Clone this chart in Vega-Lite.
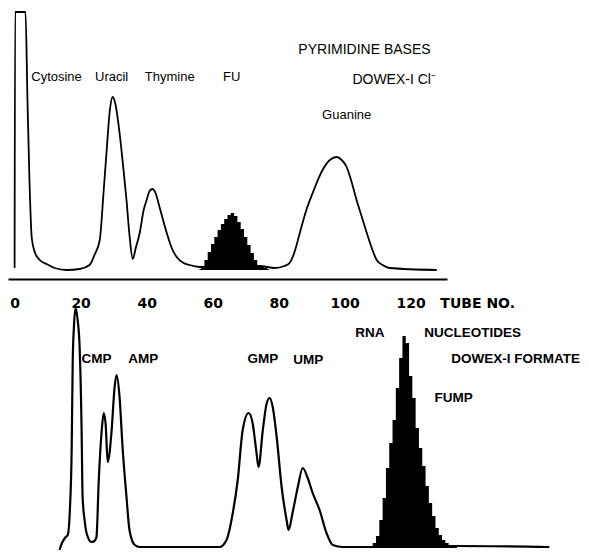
{
  "$schema": "https://vega.github.io/schema/vega-lite/v6.json",
  "width": 589,
  "height": 553,
  "autosize": {"type": "none"},
  "padding": 0,
  "background": "white",
  "config": {"view": {"stroke": null}},
  "datasets": {
    "top_line": [
      {"t": 0, "v": 2}, {"t": 0.15, "v": 258}, {"t": 3.3, "v": 258}, {"t": 3.9, "v": 170}, {"t": 4.5, "v": 90},
      {"t": 5.2, "v": 32}, {"t": 6.1, "v": 18}, {"t": 7.6, "v": 10}, {"t": 9.7, "v": 6}, {"t": 12.1, "v": 2},
      {"t": 15.8, "v": 0}, {"t": 19.7, "v": 1}, {"t": 22.7, "v": 5}, {"t": 24.2, "v": 15}, {"t": 25.8, "v": 30},
      {"t": 27, "v": 80}, {"t": 27.9, "v": 120}, {"t": 28.8, "v": 158}, {"t": 29.7, "v": 173}, {"t": 30.6, "v": 165},
      {"t": 31.8, "v": 137}, {"t": 33, "v": 100}, {"t": 33.9, "v": 70}, {"t": 34.8, "v": 35}, {"t": 35.8, "v": 11},
      {"t": 36.7, "v": 22}, {"t": 37.9, "v": 37}, {"t": 39.1, "v": 60}, {"t": 40, "v": 70}, {"t": 40.9, "v": 79},
      {"t": 41.8, "v": 81}, {"t": 42.7, "v": 77}, {"t": 43.9, "v": 63}, {"t": 46.1, "v": 37}, {"t": 47.6, "v": 22},
      {"t": 49.1, "v": 13}, {"t": 51.2, "v": 7}, {"t": 53, "v": 5}, {"t": 56.1, "v": 3}, {"t": 65.2, "v": 2},
      {"t": 74.2, "v": 4}, {"t": 78.8, "v": 2}, {"t": 81.8, "v": 4}, {"t": 83.3, "v": 7}, {"t": 84.8, "v": 18},
      {"t": 86.4, "v": 37}, {"t": 88.2, "v": 58}, {"t": 90.3, "v": 77}, {"t": 93.3, "v": 100}, {"t": 95.5, "v": 110},
      {"t": 97.6, "v": 113}, {"t": 99.1, "v": 110}, {"t": 100.6, "v": 103}, {"t": 102.1, "v": 88}, {"t": 103.6, "v": 70},
      {"t": 105.2, "v": 53}, {"t": 106.7, "v": 37}, {"t": 108.2, "v": 22}, {"t": 109.7, "v": 10}, {"t": 111.5, "v": 5},
      {"t": 113.6, "v": 2}, {"t": 127.9, "v": 0}
    ],
    "fu": [
      {"t": 56, "v": 1}, {"t": 57, "v": 4}, {"t": 58, "v": 10}, {"t": 59, "v": 18}, {"t": 60, "v": 26},
      {"t": 61, "v": 33}, {"t": 62, "v": 40}, {"t": 63, "v": 46}, {"t": 64, "v": 51}, {"t": 65, "v": 55},
      {"t": 66, "v": 57}, {"t": 67, "v": 54}, {"t": 68, "v": 48}, {"t": 69, "v": 41}, {"t": 70, "v": 33},
      {"t": 71, "v": 25}, {"t": 72, "v": 17}, {"t": 73, "v": 10}, {"t": 74, "v": 5}, {"t": 75, "v": 3},
      {"t": 76, "v": 2}, {"t": 77, "v": 1}
    ],
    "bottom_line": [
      {"t": 13.6, "v": -2}, {"t": 14.5, "v": 6}, {"t": 15.5, "v": 11}, {"t": 16.1, "v": 13}, {"t": 16.7, "v": 35},
      {"t": 17.3, "v": 101}, {"t": 17.6, "v": 185}, {"t": 18.0, "v": 223}, {"t": 18.5, "v": 240}, {"t": 19.1, "v": 228},
      {"t": 19.7, "v": 201}, {"t": 20.3, "v": 118}, {"t": 20.6, "v": 51}, {"t": 21.2, "v": 28}, {"t": 21.8, "v": 15},
      {"t": 23.3, "v": 6}, {"t": 24.2, "v": 7}, {"t": 24.8, "v": 11}, {"t": 25.5, "v": 68}, {"t": 26.4, "v": 118},
      {"t": 27, "v": 135}, {"t": 27.6, "v": 123}, {"t": 28.2, "v": 86}, {"t": 28.8, "v": 96}, {"t": 29.4, "v": 118},
      {"t": 30.3, "v": 161}, {"t": 30.9, "v": 173}, {"t": 31.8, "v": 151}, {"t": 32.7, "v": 101}, {"t": 33.9, "v": 51},
      {"t": 34.8, "v": 18}, {"t": 36.4, "v": 3}, {"t": 37.9, "v": 1}, {"t": 62.1, "v": 1}, {"t": 64.2, "v": 8},
      {"t": 66.1, "v": 35}, {"t": 67.6, "v": 68}, {"t": 69.1, "v": 118}, {"t": 70.9, "v": 135}, {"t": 72.1, "v": 125},
      {"t": 73.3, "v": 95}, {"t": 73.9, "v": 81}, {"t": 75.2, "v": 118}, {"t": 76.4, "v": 145}, {"t": 77.3, "v": 150},
      {"t": 78.2, "v": 141}, {"t": 79.4, "v": 111}, {"t": 80.9, "v": 61}, {"t": 82.4, "v": 28}, {"t": 83, "v": 18},
      {"t": 84.2, "v": 35}, {"t": 85.8, "v": 61}, {"t": 87.3, "v": 80}, {"t": 88.8, "v": 70}, {"t": 90.3, "v": 55},
      {"t": 92.4, "v": 38}, {"t": 94.5, "v": 15}, {"t": 96.4, "v": 3}, {"t": 99.4, "v": 1}, {"t": 108.5, "v": 1},
      {"t": 132.7, "v": 2}, {"t": 162, "v": 1}
    ],
    "fump": [
      {"t": 108, "v": 2}, {"t": 109, "v": 5}, {"t": 110, "v": 12}, {"t": 111, "v": 28}, {"t": 112, "v": 50},
      {"t": 113, "v": 80}, {"t": 114, "v": 105}, {"t": 115, "v": 128}, {"t": 116, "v": 160}, {"t": 117, "v": 190},
      {"t": 118, "v": 212}, {"t": 119, "v": 205}, {"t": 120, "v": 172}, {"t": 121, "v": 150}, {"t": 122, "v": 120},
      {"t": 123, "v": 100}, {"t": 124, "v": 82}, {"t": 125, "v": 62}, {"t": 126, "v": 45}, {"t": 127, "v": 32},
      {"t": 128, "v": 20}, {"t": 129, "v": 13}, {"t": 130, "v": 8}, {"t": 131, "v": 5}, {"t": 132, "v": 3},
      {"t": 133, "v": 2}, {"t": 134, "v": 1}
    ],
    "top_labels": [
      {"t": 12.7, "v": 193, "label": "Cytosine"},
      {"t": 29.4, "v": 193, "label": "Uracil"},
      {"t": 47, "v": 193, "label": "Thymine"},
      {"t": 65.8, "v": 193, "label": "FU"},
      {"t": 100.6, "v": 155, "label": "Guanine"}
    ],
    "top_caps": [
      {"t": 106, "v": 220, "label": "PYRIMIDINE BASES"},
      {"t": 115, "v": 190, "label": "DOWEX-I Cl⁻"}
    ],
    "tube": [
      {"t": 140.3, "v": -34, "label": "TUBE NO."}
    ],
    "bottom_labels": [
      {"t": 24.8, "v": 189, "label": "CMP"},
      {"t": 39, "v": 189, "label": "AMP"},
      {"t": 75.2, "v": 189, "label": "GMP"},
      {"t": 89, "v": 188, "label": "UMP"},
      {"t": 107.6, "v": 215, "label": "RNA"},
      {"t": 138.8, "v": 215, "label": "NUCLEOTIDES"},
      {"t": 151.8, "v": 189, "label": "DOWEX-I FORMATE"},
      {"t": 133, "v": 150, "label": "FUMP"}
    ]
  },
  "resolve": {"scale": {"y": "independent"}, "axis": {"y": "independent"}},
  "encoding": {
    "x": {"field": "t", "type": "quantitative", "scale": {"domain": [-2, 131], "range": [8, 447], "nice": false, "zero": false},
          "axis": {"values": [0, 20, 40, 60, 80, 100, 120], "orient": "bottom", "offset": -274, "title": null, "grid": false,
                   "ticks": false, "tickSize": 0, "labelPadding": 17, "domainColor": "black", "domainWidth": 2,
                   "labelFont": "DejaVu Sans", "labelFontWeight": "bold", "labelFontSize": 14, "labelColor": "black",
                   "labelFlush": false, "labelOverlap": false}}
  },
  "layer": [
    {
      "data": {"name": "fu"},
      "mark": {"type": "area", "interpolate": "step", "color": "black", "clip": false},
      "encoding": {
        "y": {"field": "v", "type": "quantitative", "scale": {"domain": [0, 258], "range": [270, 12], "nice": false, "zero": false}, "axis": null}
      }
    },
    {
      "data": {"name": "top_line"},
      "mark": {"type": "line", "interpolate": "monotone", "color": "black", "strokeWidth": 1.8, "clip": false},
      "encoding": {
        "y": {"field": "v", "type": "quantitative", "scale": {"domain": [0, 258], "range": [270, 12], "nice": false, "zero": false}, "axis": null}
      }
    },
    {
      "data": {"name": "fump"},
      "mark": {"type": "area", "interpolate": "step", "color": "black", "clip": false},
      "encoding": {
        "y": {"field": "v", "type": "quantitative", "scale": {"domain": [0, 240], "range": [548, 308], "nice": false, "zero": false}, "axis": null}
      }
    },
    {
      "data": {"name": "bottom_line"},
      "mark": {"type": "line", "interpolate": "monotone", "color": "black", "strokeWidth": 2.2, "clip": false},
      "encoding": {
        "y": {"field": "v", "type": "quantitative", "scale": {"domain": [0, 240], "range": [548, 308], "nice": false, "zero": false}, "axis": null}
      }
    },
    {
      "data": {"name": "top_labels"},
      "mark": {"type": "text", "font": "Liberation Sans", "fontSize": 13, "color": "black", "align": "center", "baseline": "middle", "clip": false},
      "encoding": {
        "y": {"field": "v", "type": "quantitative", "scale": {"domain": [0, 258], "range": [270, 12], "nice": false, "zero": false}, "axis": null},
        "text": {"field": "label"}
      }
    },
    {
      "data": {"name": "top_caps"},
      "mark": {"type": "text", "font": "Liberation Sans", "fontSize": 14, "color": "black", "align": "center", "baseline": "middle", "clip": false},
      "encoding": {
        "y": {"field": "v", "type": "quantitative", "scale": {"domain": [0, 258], "range": [270, 12], "nice": false, "zero": false}, "axis": null},
        "text": {"field": "label"}
      }
    },
    {
      "data": {"name": "tube"},
      "mark": {"type": "text", "font": "DejaVu Sans", "fontWeight": "bold", "fontSize": 14, "color": "black", "align": "center", "baseline": "middle", "clip": false},
      "encoding": {
        "y": {"field": "v", "type": "quantitative", "scale": {"domain": [0, 258], "range": [270, 12], "nice": false, "zero": false}, "axis": null},
        "text": {"field": "label"}
      }
    },
    {
      "data": {"name": "bottom_labels"},
      "mark": {"type": "text", "font": "Liberation Sans", "fontWeight": "bold", "fontSize": 13.5, "color": "black", "align": "center", "baseline": "middle", "clip": false},
      "encoding": {
        "y": {"field": "v", "type": "quantitative", "scale": {"domain": [0, 240], "range": [548, 308], "nice": false, "zero": false}, "axis": null},
        "text": {"field": "label"}
      }
    }
  ]
}
